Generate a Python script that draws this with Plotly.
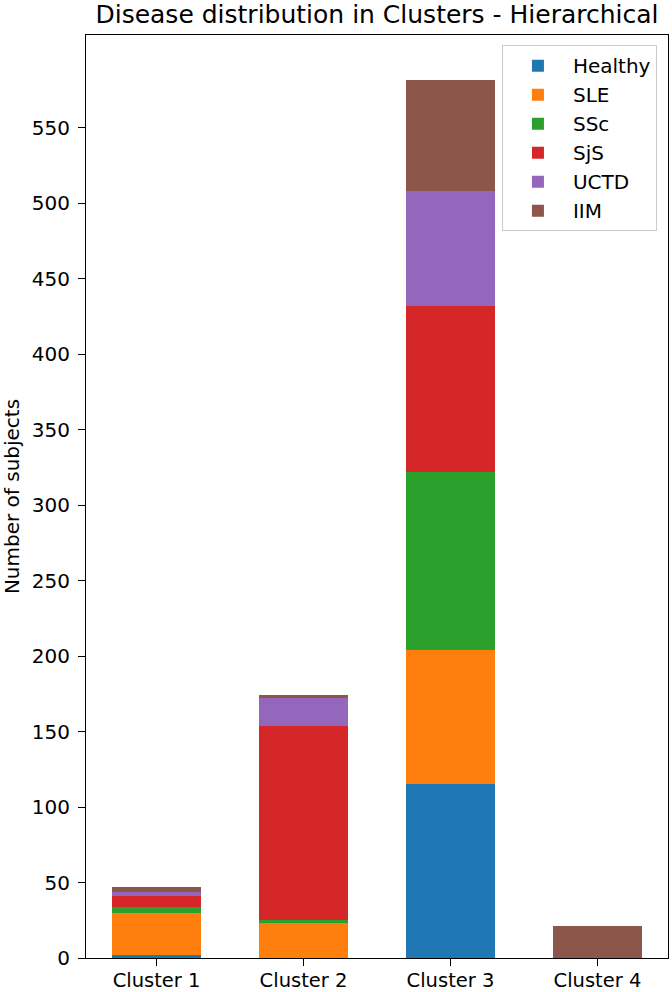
import plotly.graph_objects as go

clusters = ["Cluster 1", "Cluster 2", "Cluster 3", "Cluster 4"]
healthy = [2, 0, 115, 0]
sle = [28, 23, 89, 0]
ssc = [4, 2, 118, 0]
sjs = [7, 129, 110, 0]
uctd = [3, 18, 76, 0]
iim = [3, 2, 74, 21]

series = [("Healthy", healthy, "#1f77b4"), ("SLE", sle, "#ff7f0e"), ("SSc", ssc, "#2ca02c"),
          ("SjS", sjs, "#d62728"), ("UCTD", uctd, "#9467bd"), ("IIM", iim, "#8c564b")]

font = "DejaVu Sans"
fig = go.Figure()
for name, vals, color in series:
    fig.add_trace(go.Bar(x=list(range(len(clusters))), y=vals, name=name, width=0.6,
                         marker=dict(color=color, line=dict(width=0))))

fig.update_layout(
    barmode="stack",
    width=672, height=992,
    margin=dict(l=86, r=4, t=35, b=34, autoexpand=False),
    paper_bgcolor="white", plot_bgcolor="white",
    font=dict(family=font, size=20, color="black"),
    title=dict(text="Disease distribution in Clusters - Hierarchical", xref="paper", x=0.5, xanchor="center",
               yref="container", y=1 - 14 / 992, yanchor="middle", font=dict(size=25, family=font)),
    legend=dict(x=0.981, xanchor="right", y=0.989, yanchor="top", traceorder="normal",
                bgcolor="white", bordercolor="#cccccc", borderwidth=1,
                font=dict(size=20, family=font), itemwidth=60),
    bargap=0,
)
fig.update_xaxes(range=[-0.48, 3.48], tickvals=list(range(len(clusters))), ticktext=clusters,
                 showline=True, linecolor="black", linewidth=1.2, mirror=True,
                 ticks="outside", ticklen=7, tickcolor="black", showgrid=False, zeroline=False,
                 tickfont=dict(size=19.5), ticklabelstandoff=-3, automargin=False)
fig.update_yaxes(range=[0, 611.5], tickvals=list(range(0, 551, 50)),
                 showline=True, linecolor="black", linewidth=1.2, mirror=True,
                 ticks="outside", ticklen=7, tickcolor="black", showgrid=False, zeroline=False,
                 title=dict(text="Number of subjects", font=dict(size=20), standoff=12),
                 tickfont=dict(size=20), ticklabelstandoff=4, automargin=False)

fig.write_html("out.html", config={"displayModeBar": False},
               post_script="document.body.style.margin='0';")
